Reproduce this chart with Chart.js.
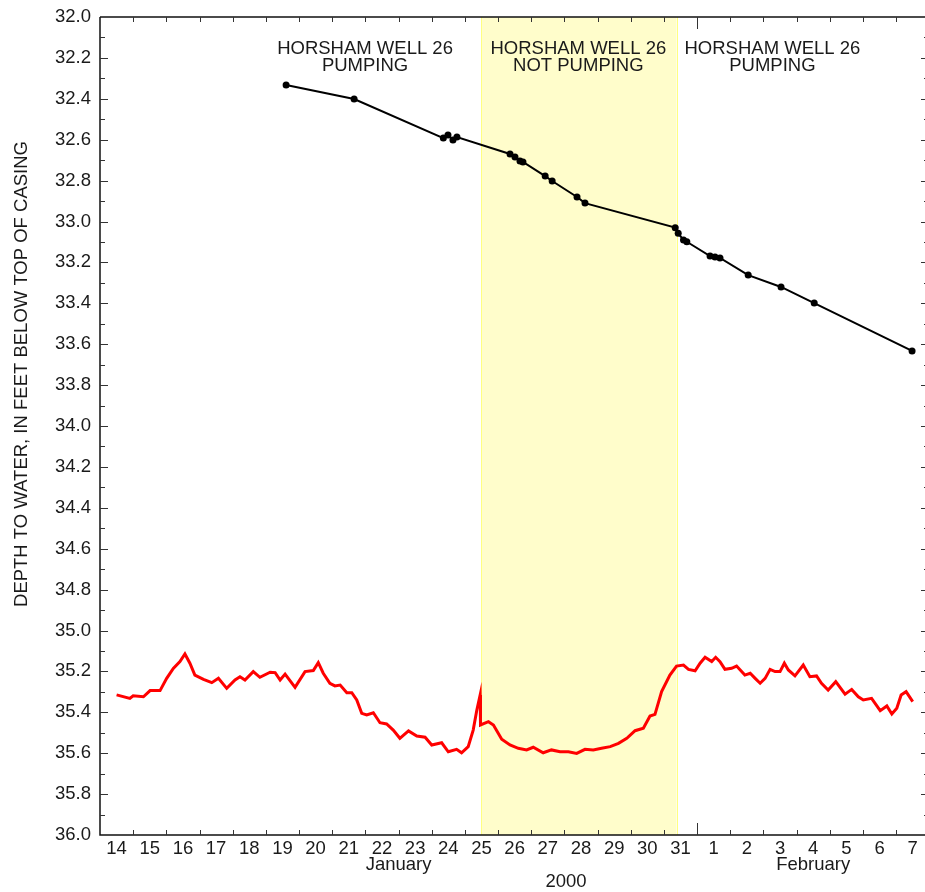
<!DOCTYPE html>
<html>
<head>
<meta charset="utf-8">
<script src="https://cdn.jsdelivr.net/npm/chart.js@4.4.1/dist/chart.umd.min.js"></script>
<style>
  html, body { margin: 0; padding: 0; background: #fff; overflow: hidden; }
  #wrap { width: 925px; height: 892px; }
</style>
</head>
<body>
<div id="wrap"><canvas id="chart" width="925" height="892"></canvas></div>
<script>
"use strict"
// x values are days since 00:00 January 14, 2000
const xTickLabels = ["14", "15", "16", "17", "18", "19", "20", "21", "22", "23", "24", "25", "26",
    "27", "28", "29", "30", "31", "1", "2", "3", "4", "5", "6", "7"];
const monthLabels = [
    { text: "January", day: 9.0 },
    { text: "February", day: 21.5 },
];
const yearLabel = { text: "2000", day: 14.05 };
const monthStart = 18; // Feb 1

// Horsham Well 26 not pumping
const bandStart = 11.5;
const bandEnd = 17.38;

// manual measurements (black)
const manualDays = [5.61, 7.66, 10.35, 10.49, 10.64, 10.76, 12.36, 12.51, 12.66, 12.75, 13.42, 13.63,
    14.38, 14.62, 17.34, 17.43, 17.59, 17.69, 18.39, 18.54, 18.69, 19.54, 20.53, 21.53, 24.48];
const manualDepth = [32.333, 32.401, 32.592, 32.577, 32.601, 32.587, 32.670, 32.685, 32.704, 32.709,
    32.778, 32.802, 32.880, 32.910, 33.030, 33.058, 33.090, 33.099, 33.169, 33.174, 33.178, 33.262,
    33.320, 33.399, 33.633];

// continuous recorder (red)
const recDays = [0.50, 0.90, 1.00, 1.31, 1.51, 1.81, 2.01, 2.21, 2.41, 2.56, 2.71, 2.86, 3.12, 3.37,
    3.57, 3.82, 4.07, 4.22, 4.37, 4.62, 4.82, 5.13, 5.28, 5.43, 5.58, 5.88, 6.18, 6.43, 6.58, 6.73,
    6.93, 7.08, 7.24, 7.44, 7.59, 7.74, 7.89, 8.04, 8.24, 8.44, 8.64, 8.84, 9.04, 9.30, 9.55, 9.80,
    10.00, 10.30, 10.50, 10.75, 10.90, 11.10, 11.25, 11.36, 11.46, 11.47, 11.71, 11.86, 12.11, 12.36,
    12.61, 12.86, 13.06, 13.36, 13.61, 13.87, 14.12, 14.37, 14.62, 14.87, 15.12, 15.38, 15.63, 15.88,
    16.13, 16.38, 16.58, 16.73, 16.93, 17.18, 17.38, 17.59, 17.74, 17.94, 18.09, 18.24, 18.44, 18.56,
    18.69, 18.84, 19.04, 19.19, 19.44, 19.60, 19.75, 19.90, 20.05, 20.20, 20.35, 20.50, 20.63, 20.75,
    20.95, 21.20, 21.40, 21.60, 21.75, 21.95, 22.18, 22.46, 22.66, 22.86, 23.01, 23.26, 23.52, 23.72,
    23.87, 24.02, 24.15, 24.30, 24.50];
const recDepth = [35.315, 35.332, 35.319, 35.324, 35.294, 35.294, 35.234, 35.185, 35.152, 35.115,
    35.160, 35.218, 35.239, 35.255, 35.234, 35.283, 35.242, 35.226, 35.242, 35.201, 35.229, 35.204,
    35.206, 35.242, 35.213, 35.278, 35.201, 35.196, 35.157, 35.209, 35.258, 35.271, 35.267, 35.304,
    35.304, 35.340, 35.405, 35.413, 35.402, 35.451, 35.457, 35.487, 35.527, 35.491, 35.516, 35.522,
    35.560, 35.549, 35.593, 35.581, 35.598, 35.568, 35.487, 35.389, 35.315, 35.462, 35.446, 35.462,
    35.532, 35.560, 35.576, 35.584, 35.571, 35.598, 35.584, 35.593, 35.593, 35.601, 35.581, 35.584,
    35.576, 35.568, 35.552, 35.527, 35.490, 35.478, 35.418, 35.410, 35.299, 35.218, 35.174, 35.169,
    35.190, 35.197, 35.160, 35.131, 35.152, 35.131, 35.152, 35.190, 35.185, 35.174, 35.218, 35.209,
    35.234, 35.258, 35.234, 35.190, 35.201, 35.201, 35.160, 35.193, 35.222, 35.169, 35.226, 35.222,
    35.258, 35.291, 35.250, 35.311, 35.288, 35.324, 35.340, 35.332, 35.392, 35.369, 35.408, 35.380,
    35.315, 35.299, 35.348];

const notes = [
    { day: 7.99, lines: ["HORSHAM WELL 26", "PUMPING"] },
    { day: 14.42, lines: ["HORSHAM WELL 26", "NOT PUMPING"] },
    { day: 20.27, lines: ["HORSHAM WELL 26", "PUMPING"] },
];
const yTitle = "DEPTH TO WATER, IN FEET BELOW TOP OF CASING";

const FAMILY = "'Liberation Sans', Arial, sans-serif";
const FONT = "18.5px " + FAMILY;
const INK = "#1a1a1a";

const toPoints = (xs, ys) => xs.map((x, i) => ({ x: x, y: ys[i] }));

// keep the plot box fixed: no label overhang padding
const noPad = (scale) => {
    scale.paddingTop = 0;
    scale.paddingBottom = 0;
    scale.paddingLeft = 0;
    scale.paddingRight = 0;
};

const extras = {
    id: "extras",
    beforeDatasetsDraw(chart) {
        const { ctx, chartArea, scales } = chart;
        const x0 = scales.x.getPixelForValue(bandStart);
        const x1 = scales.x.getPixelForValue(bandEnd);
        ctx.save();
        ctx.fillStyle = "#fffdcb";
        ctx.fillRect(x0, chartArea.top, x1 - x0, chartArea.bottom - chartArea.top);
        ctx.strokeStyle = "#ffff80";
        ctx.lineWidth = 1;
        ctx.beginPath();
        ctx.moveTo(Math.round(x0) + 0.5, chartArea.top);
        ctx.lineTo(Math.round(x0) + 0.5, chartArea.bottom);
        ctx.moveTo(Math.round(x1) + 0.5, chartArea.top);
        ctx.lineTo(Math.round(x1) + 0.5, chartArea.bottom);
        ctx.stroke();

        ctx.fillStyle = INK;
        ctx.font = FONT;
        ctx.textAlign = "center";
        ctx.textBaseline = "alphabetic";
        notes.forEach(n => {
            const px = scales.x.getPixelForValue(n.day);
            ctx.fillText(n.lines[0], px, 54);
            ctx.fillText(n.lines[1], px, 71);
        });
        ctx.restore();
    },
    afterDraw(chart) {
        const { ctx, chartArea, scales } = chart;
        const { left, right, top, bottom } = chartArea;
        ctx.save();
        ctx.strokeStyle = "#111";
        ctx.lineWidth = 1.5;
        ctx.beginPath();
        ctx.moveTo(left, top);
        ctx.lineTo(right + 5, top);
        ctx.moveTo(left, top);
        ctx.lineTo(left, bottom);
        ctx.lineTo(right + 5, bottom);
        ctx.stroke();

        ctx.lineWidth = 1;
        ctx.strokeStyle = "#333";
        ctx.beginPath();
        // day ticks, top and bottom
        for (let d = 1; d <= 25; d++) {
            const px = Math.round(scales.x.getPixelForValue(d)) + 0.5;
            if (px > right) break;
            const len = d === monthStart ? 12 : 5;
            ctx.moveTo(px, bottom);
            ctx.lineTo(px, bottom - len);
            ctx.moveTo(px, top);
            ctx.lineTo(px, top + len);
        }
        // depth ticks, left and right
        for (let i = 1; i < 40; i++) {
            const v = 32 + i * 0.1;
            const py = Math.round(scales.y.getPixelForValue(v)) + 0.5;
            const len = i % 2 === 0 ? 8 : 5;
            ctx.moveTo(left, py);
            ctx.lineTo(left + len, py);
            ctx.moveTo(right + 4, py);
            ctx.lineTo(right + 4 - len, py);
        }
        ctx.stroke();

        ctx.fillStyle = INK;
        ctx.font = FONT;
        ctx.textAlign = "center";
        ctx.textBaseline = "alphabetic";
        monthLabels.forEach(m => {
            ctx.fillText(m.text, scales.x.getPixelForValue(m.day), 870);
        });
        ctx.fillText(yearLabel.text, scales.x.getPixelForValue(yearLabel.day), 887);

        ctx.translate(27, 374);
        ctx.rotate(-Math.PI / 2);
        ctx.fillText(yTitle, 0, 0);
        ctx.restore();
    },
};

const dayCenters = xTickLabels.map((_, i) => i + 0.5);

new Chart(document.getElementById("chart"), {
    type: "scatter",
    plugins: [extras],
    data: {
        datasets: [
            {
                data: toPoints(recDays, recDepth),
                showLine: true,
                borderColor: "#ff0000",
                borderWidth: 3,
                pointRadius: 0,
                tension: 0,
            },
            {
                data: toPoints(manualDays, manualDepth),
                showLine: true,
                borderColor: "#000",
                backgroundColor: "#000",
                borderWidth: 2,
                pointRadius: 3.5,
                pointBorderWidth: 0,
                tension: 0,
            },
        ],
    },
    options: {
        responsive: false,
        animation: false,
        layout: {
            autoPadding: false,
            padding: { top: 17, left: 0, right: 0, bottom: 0 },
        },
        plugins: {
            legend: { display: false },
            tooltip: { enabled: false },
        },
        scales: {
            x: {
                type: "linear",
                min: 0,
                max: 24.87,
                grid: { display: false, drawTicks: false, tickLength: 0 },
                border: { display: false },
                afterBuildTicks: (scale) => {
                    scale.ticks = dayCenters.map(v => ({ value: v }));
                },
                afterFit: (scale) => { scale.height = 57; noPad(scale); },
                ticks: {
                    autoSkip: false,
                    maxRotation: 0,
                    padding: 3,
                    color: INK,
                    font: { family: FAMILY, size: 18.5 },
                    callback: (v, i) => xTickLabels[i],
                },
            },
            y: {
                type: "linear",
                reverse: true,
                min: 32,
                max: 36,
                grid: { display: false, drawTicks: false, tickLength: 0 },
                border: { display: false },
                afterFit: (scale) => { scale.width = 100; noPad(scale); },
                ticks: {
                    stepSize: 0.2,
                    padding: 9,
                    color: INK,
                    font: { family: FAMILY, size: 18.5 },
                    callback: (v) => Number(v).toFixed(1),
                },
            },
        },
    },
});
</script>
</body>
</html>
